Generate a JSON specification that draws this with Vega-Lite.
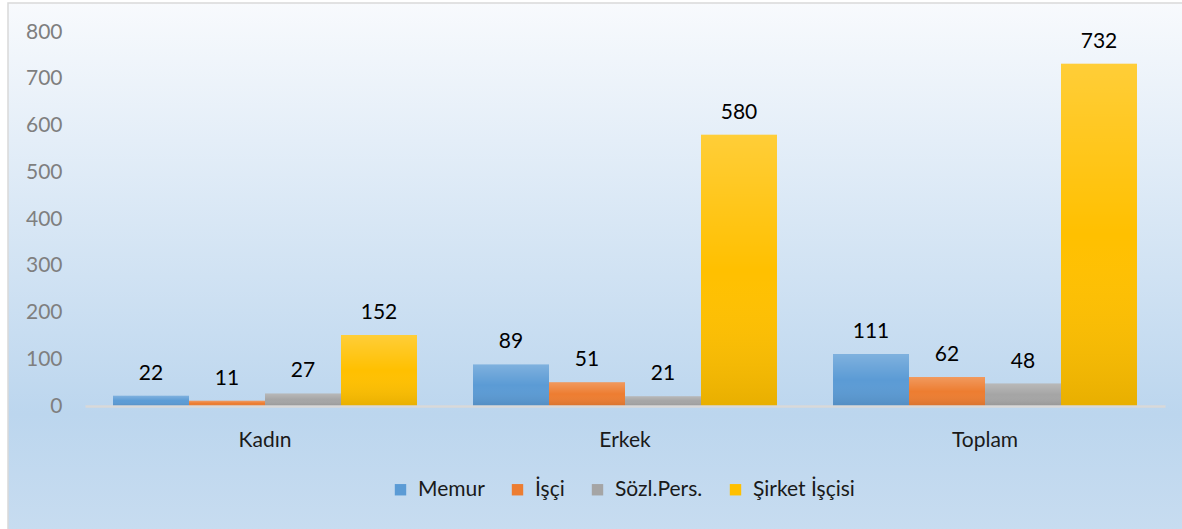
{
  "$schema": "https://vega.github.io/schema/vega-lite/v6.json",
  "width": 1175,
  "height": 527,
  "padding": {"left": 8, "top": 3, "right": 0, "bottom": 0},
  "autosize": {"type": "none"},
  "background": "#ffffff",
  "config": {
    "font": "Lato",
    "view": {
      "fill": {
        "gradient": "linear", "x1": 0, "y1": 0, "x2": 0, "y2": 1,
        "stops": [
          {"offset": 0, "color": "#f8fafd"},
          {"offset": 0.78, "color": "#bcd6ee"},
          {"offset": 1, "color": "#c7dcf0"}
        ]
      },
      "stroke": "#d9d9d9",
      "strokeWidth": 1.5
    }
  },
  "data": {
    "values": [
      {"group": "Kadın", "series": "Memur", "value": 22},
      {"group": "Kadın", "series": "İşçi", "value": 11},
      {"group": "Kadın", "series": "Sözl.Pers.", "value": 27},
      {"group": "Kadın", "series": "Şirket İşçisi", "value": 152},
      {"group": "Erkek", "series": "Memur", "value": 89},
      {"group": "Erkek", "series": "İşçi", "value": 51},
      {"group": "Erkek", "series": "Sözl.Pers.", "value": 21},
      {"group": "Erkek", "series": "Şirket İşçisi", "value": 580},
      {"group": "Toplam", "series": "Memur", "value": 111},
      {"group": "Toplam", "series": "İşçi", "value": 62},
      {"group": "Toplam", "series": "Sözl.Pers.", "value": 48},
      {"group": "Toplam", "series": "Şirket İşçisi", "value": 732}
    ]
  },
  "encoding": {
    "x": {
      "field": "group", "type": "nominal", "sort": ["Kadın", "Erkek", "Toplam"],
      "scale": {"range": [77, 1157], "paddingInner": 0.1556, "paddingOuter": 0.0778},
      "axis": {
        "title": null, "orient": "bottom", "offset": -124, "labelAngle": 0,
        "labelFontSize": 21, "labelColor": "#1a1a1a", "labelPadding": 23,
        "ticks": false, "domain": true, "domainColor": "#d9d9d9", "domainWidth": 2.5,
        "zindex": 1
      }
    },
    "xOffset": {"field": "series", "type": "nominal", "sort": ["Memur", "İşçi", "Sözl.Pers.", "Şirket İşçisi"]},
    "y": {
      "field": "value", "type": "quantitative",
      "scale": {"domain": [0, 800], "range": [403, 29], "nice": false},
      "axis": {
        "title": null, "values": [0, 100, 200, 300, 400, 500, 600, 700, 800],
        "offset": -58, "labelPadding": 4, "ticks": false, "domain": false, "grid": false,
        "labelFontSize": 21, "labelColor": "#7f7f7f"
      }
    }
  },
  "layer": [
    {
      "mark": {"type": "bar"},
      "encoding": {
        "color": {
          "field": "series", "type": "nominal",
          "sort": ["Memur", "İşçi", "Sözl.Pers.", "Şirket İşçisi"],
          "scale": {"domain": ["Memur", "İşçi", "Sözl.Pers.", "Şirket İşçisi"], "range": ["#5b9bd5", "#ed7d31", "#a5a5a5", "#ffc000"]},
          "legend": {
            "title": null, "orient": "none", "direction": "horizontal",
            "legendX": 382, "legendY": 476,
            "symbolType": "square", "symbolSize": 130, "symbolStrokeWidth": 0,
            "labelFontSize": 21, "labelColor": "#1a1a1a", "labelOffset": 7,
            "columnPadding": 22
          }
        }
      }
    },
    {
      "mark": {
        "type": "bar",
        "fill": {
          "gradient": "linear", "x1": 0, "y1": 0, "x2": 0, "y2": 1,
          "stops": [
            {"offset": 0, "color": "rgba(255,255,255,0.22)"},
            {"offset": 0.5, "color": "rgba(255,255,255,0)"},
            {"offset": 1, "color": "rgba(0,0,0,0.09)"}
          ]
        }
      }
    },
    {
      "mark": {"type": "text", "baseline": "alphabetic", "dy": -16, "fontSize": 21, "color": "#000000"},
      "encoding": {"text": {"field": "value", "type": "quantitative"}}
    }
  ]
}
